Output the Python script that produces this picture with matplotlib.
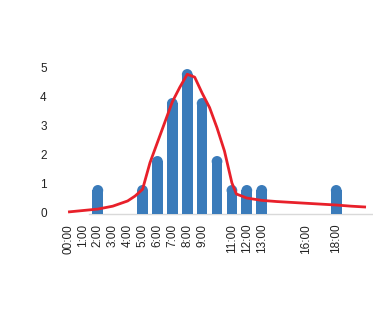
import matplotlib
matplotlib.use("Agg")
import matplotlib.pyplot as plt
from matplotlib.patches import Ellipse
from matplotlib.transforms import ScaledTranslation

plt.rcParams['font.family'] = ['Liberation Sans', 'DejaVu Sans']

# categories (hour slots); empty strings are unlabeled slots
hours = list(range(21))
hour_labels = ["00:00", "1:00", "2:00", "3:00", "4:00", "5:00", "6:00", "7:00",
               "8:00", "9:00", "", "11:00", "12:00", "13:00", "", "", "16:00",
               "", "18:00", "", ""]

# bar values per hour slot
counts = [0, 0, 1, 0, 0, 1, 2, 4, 5, 4, 2, 1, 1, 1, 0, 0, 0, 0, 1, 0, 0]

# red fitted curve (x in hours, y values)
curve_x = [0, 1, 2, 3, 4, 4.5, 5, 5.5, 6, 6.5, 7, 7.5, 8, 8.5, 9, 9.5, 10,
           10.5, 11, 11.3, 12, 13, 14, 15, 16, 17, 18, 19, 20]
curve_y = [0.07, 0.12, 0.17, 0.27, 0.45, 0.62, 0.85, 1.77, 2.47, 3.17, 3.87,
           4.37, 4.82, 4.72, 4.17, 3.67, 2.97, 2.17, 1.07, 0.69, 0.55, 0.47,
           0.43, 0.4, 0.37, 0.34, 0.31, 0.27, 0.24]

bar_color = "#3A7BBA"
line_color = "#E8202A"

fig = plt.figure(figsize=(3.87, 3.31), dpi=100)
ax = fig.add_axes([0.1566, 0.3447, 0.8084, 0.473])
ymin, ymax = -0.1, 5.3
ax.set_xlim(-0.5, 20.5)
ax.set_ylim(ymin, ymax)

bar_w = 0.72
# data units per pixel
px_w = ax.get_position().width * fig.get_figwidth() * fig.dpi
px_h = ax.get_position().height * fig.get_figheight() * fig.dpi
x_per_px = 21.0 / px_w
y_per_px = (ymax - ymin) / px_h
r_px = (bar_w / x_per_px) / 2.0
r_y = r_px * y_per_px

ax.axhline(0, xmin=0.09, color="#D9D9D9", lw=1.0, zorder=0)

for h, c in zip(hours, counts):
    if c <= 0:
        continue
    ax.bar(h, c - r_y, width=bar_w, bottom=0, color=bar_color, zorder=2,
           linewidth=0)
    ax.add_patch(Ellipse((h, c - r_y), bar_w, 2 * r_y, color=bar_color,
                         zorder=2, linewidth=0))

ax.plot(curve_x, curve_y, color=line_color, lw=2.0, zorder=3,
        solid_joinstyle="round", solid_capstyle="butt")

ax.set_xticks(hours)
ax.set_xticklabels(hour_labels, rotation=90, fontsize=8.5, color="#222222")
ax.set_yticks([0, 1, 2, 3, 4, 5])
ax.set_yticklabels(["0", "1", "2", "3", "4", "5"], fontsize=8.5, color="#222222")
ax.tick_params(axis="both", length=0)
ax.tick_params(axis="y", pad=10)
ax.tick_params(axis="x", pad=5)
shift = ScaledTranslation(0, 2 / 100, fig.dpi_scale_trans)
for lab in ax.get_yticklabels():
    lab.set_transform(lab.get_transform() + shift)
for s in ax.spines.values():
    s.set_visible(False)

fig.savefig("out.png", dpi=100)
